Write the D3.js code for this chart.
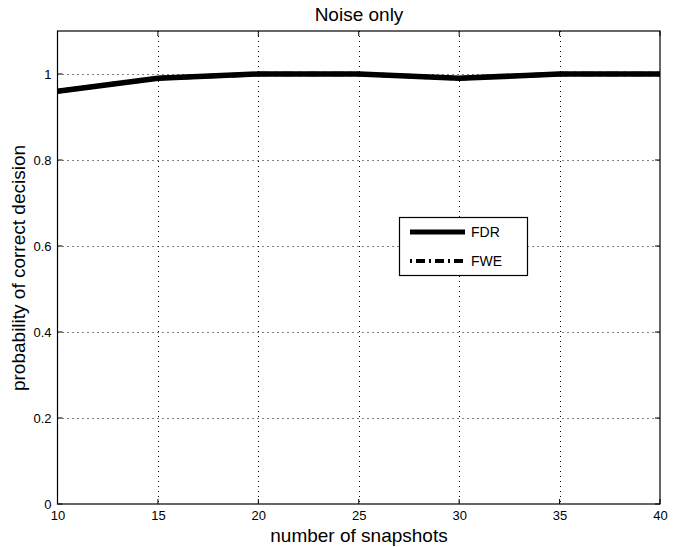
<!DOCTYPE html>
<html><head><meta charset="utf-8">
<script src="https://cdn.jsdelivr.net/npm/d3@7"></script>
<style>body{margin:0;background:#fff}svg{display:block;font-family:"Liberation Sans",Arial,sans-serif}</style>
</head><body><svg id="c" width="680" height="547"></svg>
<script>
const snapshots = [10, 15, 20, 25, 30, 35, 40];
const fdr = [0.96, 0.99, 1.0, 1.0, 0.99, 1.0, 1.0];
const fwe = [0.96, 0.99, 1.0, 1.0, 0.99, 1.0, 1.0];
const xTicks = [10, 15, 20, 25, 30, 35, 40];
const yTicks = [0, 0.2, 0.4, 0.6, 0.8, 1];
const title = "Noise only";
const xLabel = "number of snapshots";
const yLabel = "probability of correct decision";

const svg = d3.select("#c");
const L = 57.5, R = 660, T = 31, B = 504;
const x = d3.scaleLinear().domain([10, 40]).range([L, R]);
const y = d3.scaleLinear().domain([0, 1.1]).range([B, T]);

svg.append("rect").attr("width",680).attr("height",547).attr("fill","#fff");

// grid
const g = svg.append("g");
xTicks.slice(1, -1).forEach(t => g.append("line")
  .attr("x1", Math.round(x(t))+0.5).attr("x2", Math.round(x(t))+0.5).attr("y1", T).attr("y2", B)
  .attr("stroke","#000").attr("stroke-width",1).attr("stroke-dasharray","1,4"));
yTicks.slice(1).forEach(t => g.append("line")
  .attr("y1", Math.round(y(t))+0.5).attr("y2", Math.round(y(t))+0.5).attr("x1", L).attr("x2", R)
  .attr("stroke","#000").attr("stroke-width",1).attr("stroke-dasharray","1,4"));

// axes
const xAxis = d3.axisBottom(x).tickValues(xTicks).tickSize(0).tickPadding(7).tickFormat(d3.format("d"));
const yAxis = d3.axisLeft(y).tickValues(yTicks).tickSize(0).tickPadding(6).tickFormat(d => String(+d.toFixed(1)));
const gx = svg.append("g").attr("transform", `translate(0,${B})`).call(xAxis);
const gy = svg.append("g").attr("transform", `translate(${L},0)`).call(yAxis);
[gx, gy].forEach(a => { a.select(".domain").remove(); a.selectAll("text").attr("font-size",13).attr("fill","#000").attr("font-family","Liberation Sans, Arial, sans-serif"); });

// tick marks inside
xTicks.forEach(t => {
  svg.append("line").attr("x1",x(t)).attr("x2",x(t)).attr("y1",B).attr("y2",B-5).attr("stroke","#000");
  svg.append("line").attr("x1",x(t)).attr("x2",x(t)).attr("y1",T).attr("y2",T+5).attr("stroke","#000");
});
yTicks.forEach(t => {
  svg.append("line").attr("x1",L).attr("x2",L+5).attr("y1",y(t)).attr("y2",y(t)).attr("stroke","#000");
  svg.append("line").attr("x1",R).attr("x2",R-5).attr("y1",y(t)).attr("y2",y(t)).attr("stroke","#000");
});

// frame
svg.append("rect").attr("x",L).attr("y",T).attr("width",R-L).attr("height",B-T)
  .attr("fill","none").attr("stroke","#000").attr("stroke-width",1.2);

// lines
const line = d3.line().x((d,i) => x(snapshots[i])).y(d => y(d));
svg.append("path").datum(fwe).attr("d", line).attr("fill","none").attr("stroke","#000")
  .attr("stroke-width",4.5).attr("stroke-dasharray","12,5,3,5");
svg.append("path").datum(fdr).attr("d", line).attr("fill","none").attr("stroke","#000")
  .attr("stroke-width",5.5);

// legend
const lg = svg.append("g");
lg.append("rect").attr("x",399.5).attr("y",217.5).attr("width",128).attr("height",58)
  .attr("fill","#fff").attr("stroke","#000").attr("stroke-width",1.2);
lg.append("line").attr("x1",410).attr("x2",465).attr("y1",232).attr("y2",232).attr("stroke","#000").attr("stroke-width",5);
lg.append("line").attr("x1",410).attr("x2",465).attr("y1",261).attr("y2",261).attr("stroke","#000").attr("stroke-width",4)
  .attr("stroke-dasharray","2,4,9,4");
lg.append("text").attr("x",471).attr("y",237).attr("font-size",14).text("FDR");
lg.append("text").attr("x",471).attr("y",266).attr("font-size",14).text("FWE");

// titles
svg.append("text").attr("x",359).attr("y",21).attr("text-anchor","middle").attr("font-size",19).text(title);
svg.append("text").attr("x",359).attr("y",542).attr("text-anchor","middle").attr("font-size",19).text(xLabel);
svg.append("text").attr("transform","translate(25,268) rotate(-90)").attr("text-anchor","middle").attr("font-size",19).text(yLabel);
</script></body></html>
